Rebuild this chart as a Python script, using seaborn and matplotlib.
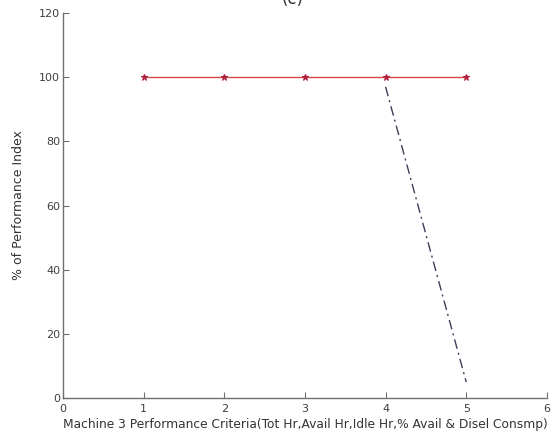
import matplotlib
matplotlib.use("Agg")
import matplotlib.pyplot as plt
import seaborn as sns
import pandas as pd

# data
criteria = [1, 2, 3, 4, 5]
index_a = [100, 100, 100, 100, 100]
criteria_b = [4, 5]
index_b = [97, 5]

xlabel = "Machine 3 Performance Criteria(Tot Hr,Avail Hr,Idle Hr,% Avail & Disel Consmp)"
ylabel = "% of Performance Index"

sns.set_style("white")
plt.rcParams['font.family'] = ['DejaVu Sans']

fig = plt.figure(figsize=(5.58, 4.41), dpi=100)
ax = fig.add_axes([0.113, 0.0975, 0.867, 0.873])

df_a = pd.DataFrame({"x": criteria, "y": index_a})
df_b = pd.DataFrame({"x": criteria_b, "y": index_b})

sns.lineplot(data=df_a, x="x", y="y", ax=ax, color="#d84a4a", linewidth=1.0,
             marker="*", markersize=5, markeredgecolor="#b02040",
             markerfacecolor="#b02040")
sns.lineplot(data=df_b, x="x", y="y", ax=ax, color="#3a3f5a", linewidth=1.0,
             linestyle=(0, (7, 3, 1.5, 3)))

ax.set_xlim(0, 6)
ax.set_ylim(0, 120)
ax.set_xticks(range(0, 7))
ax.set_yticks(range(0, 121, 20))
for s in ["top", "right"]:
    ax.spines[s].set_visible(False)
for s in ["left", "bottom"]:
    ax.spines[s].set_color("#707070")
    ax.spines[s].set_linewidth(1.0)
ax.tick_params(direction="in", length=4, width=0.8, color="#707070",
               labelsize=8, labelcolor="#404040", left=True, bottom=True)
ax.tick_params(axis="x", pad=4)
ax.tick_params(axis="y", pad=2)
ax.set_xlabel(xlabel, fontsize=8.8, color="#333333", labelpad=3)
ax.set_ylabel(ylabel, fontsize=9, color="#333333", labelpad=10)

fig.text(0.525, 1.003, "(c)", ha="center", va="center", fontsize=12, color="#333333")

fig.savefig("out.png", dpi=100)
